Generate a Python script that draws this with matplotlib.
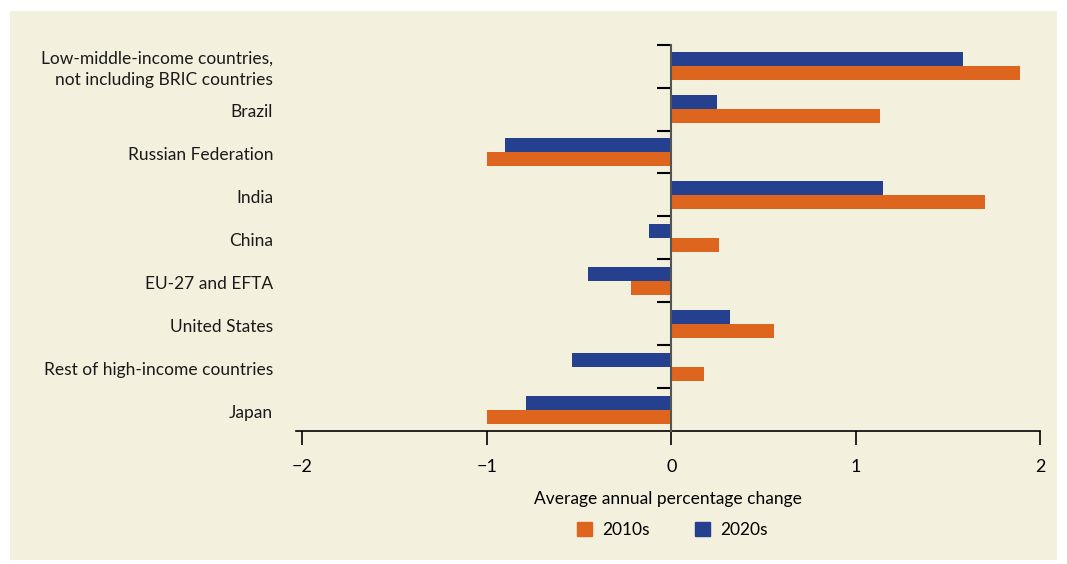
import matplotlib.pyplot as plt
import matplotlib.transforms as mtransforms
from matplotlib.patches import Rectangle, Patch

plt.rcParams['font.family'] = ['Lato', 'DejaVu Sans']

# categories listed top to bottom
categories = ["Low-middle-income countries,\nnot including BRIC countries",
              "Brazil", "Russian Federation", "India", "China",
              "EU-27 and EFTA", "United States",
              "Rest of high-income countries", "Japan"]
vals_2010s = [1.89, 1.13, -1.00, 1.70, 0.26, -0.22, 0.56, 0.18, -1.00]
vals_2020s = [1.58, 0.25, -0.90, 1.15, -0.12, -0.45, 0.32, -0.54, -0.79]
xticks = [-2, -1, 0, 1, 2]

orange = '#DD651E'
blue = '#25408F'
bg = '#F3F0DE'

fig = plt.figure(figsize=(10.67, 5.64), dpi=100)
fig.patches.append(Rectangle((10 / 1067, 4 / 564), 1047 / 1067, 549 / 564,
                             transform=fig.transFigure, facecolor=bg,
                             edgecolor='none', zorder=-10))
ax = fig.add_axes([0.2774, 0.2358, 0.6973, 0.685])
ax.set_facecolor('none')

n = len(categories)
ypos = [n - 1 - i for i in range(n)]
h = 0.326
ax.barh([y + h / 2 for y in ypos], vals_2020s, height=h, color=blue, zorder=2)
ax.barh([y - h / 2 for y in ypos], vals_2010s, height=h, color=orange, zorder=2)

ax.set_xlim(-2.035, 2)
ax.set_ylim(-0.5, n - 0.5)

for s in ['top', 'right']:
    ax.spines[s].set_visible(False)
ax.spines['left'].set_position(('data', 0))
ax.spines['left'].set_color('#555555')
ax.spines['left'].set_linewidth(1.5)
ax.spines['left'].set_zorder(3)
ax.spines['bottom'].set_linewidth(1.2)

ax.set_yticks([y + 0.5 for y in range(n)])
ax.set_yticklabels([])
ax.tick_params(axis='y', length=10, width=1.5, color='black', direction='out')

ax.set_xticks(xticks)
ax.set_xticklabels([str(t).replace('-', '\u2212') for t in xticks])
ax.tick_params(axis='x', length=10, width=1.2, labelsize=13, pad=10)

ax.set_xlabel("Average annual percentage change", fontsize=12.5, labelpad=12)

# category labels on the left, right aligned
trans = mtransforms.blended_transform_factory(fig.transFigure, ax.transData)
for y, lab in zip(ypos, categories):
    ax.text(273 / 1067, y - 0.07, lab, transform=trans, ha='right', va='center',
            fontsize=12.5, linespacing=1.45, color='#1a1a1a')

handles = [Patch(color=orange, label='2010s'), Patch(color=blue, label='2020s')]
fig.legend(handles=handles, loc='center', bbox_to_anchor=(0.630, 0.060),
           ncol=2, frameon=False, fontsize=12.5, handlelength=0.85,
           handleheight=0.85, columnspacing=2.6, handletextpad=0.6)

fig.savefig('out.png', dpi=100)
